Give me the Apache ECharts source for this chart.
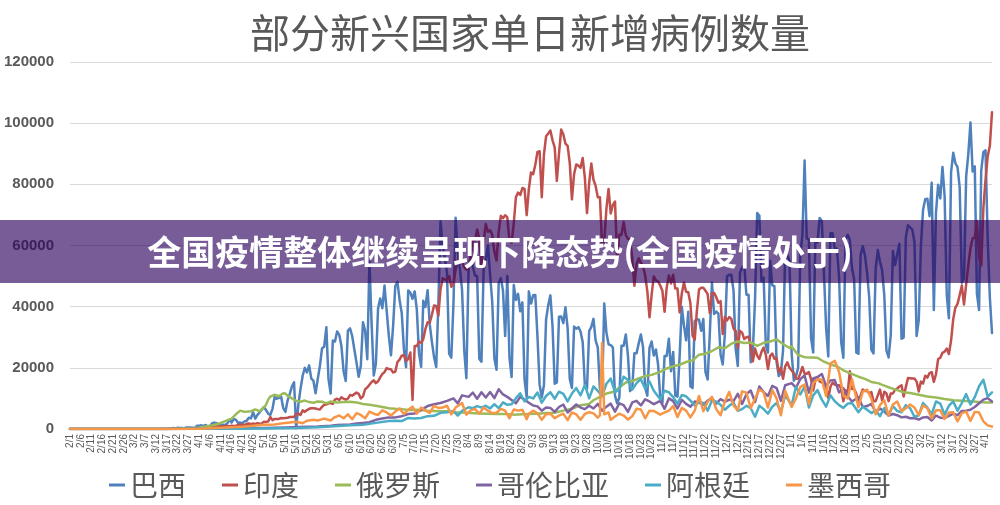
<!DOCTYPE html>
<html>
<head>
<meta charset="utf-8">
<script src="https://cdn.jsdelivr.net/npm/echarts@6/dist/echarts.min.js"></script>
<style>
  html, body { margin: 0; padding: 0; background: #fff; }
  #chart { width: 1000px; height: 505px; }
</style>
</head>
<body>
<div id="chart"></div>
<script>
// 日期: 2020/2/1 - 2021/4/4, 每天一个类目
const firstDay = Date.UTC(2020, 1, 1);
const dayCount = 429;
const dates = [];
for (let i = 0; i < dayCount; i++) {
  const d = new Date(firstDay + i * 86400000);
  dates.push((d.getUTCMonth() + 1) + '/' + d.getUTCDate());
}
// 每月1日所在的下标
const monthStarts = dates.reduce((acc, s, i) => (s.endsWith('/1') ? acc.concat(i) : acc), []);

const countries = ['巴西', '印度', '俄罗斯', '哥伦比亚', '阿根廷', '墨西哥'];
const colors = ['#4f81bd', '#c0504d', '#9bbb59', '#8064a2', '#4bacc6', '#f79646'];
const yTicks = [0, 20000, 40000, 60000, 80000, 100000, 120000];

// 巴西: 按月的每日新增 (2020年2月 ... 2021年4月)
const brazil = [
  [0,0,0,0,0,0,0,0,0,0,0,0,0,0,0,0,0,0,0,0,0,0,0,0,0,0,0,0,0],
  [0,0,0,0,0,0,0,0,0,0,0,0,0,0,100,0,100,100,200,300,200,400,300,300,200,500,500,500,400,300,1100],
  [1100,1200,1000,1300,800,1000,1900,2100,1900,1500,1100,1400,1300,1800,3100,2100,3300,3000,2000,2100,1900,2500,2700,3700,3500,5500,3400,4600,5400,6300],
  [7200,6200,5000,4600,6600,10500,9900,10200,10600,6800,5600,9300,11400,13900,15300,300,7900,13100,17400,20000,18500,20800,16500,15800,11700,16300,20600,26400,26900,33300,16400],
  [11600,28900,28600,31900,30800,27100,18900,15700,32100,32900,30400,26000,21700,17100,20600,34900,32200,22800,54800,34700,17500,21400,39400,42700,39500,46900,38700,30500,24100,33800],
  [46700,48100,42200,37900,26100,20200,45300,44600,42600,45000,39000,24800,20300,41900,39900,45400,34200,28500,23500,20300,41000,67900,60000,55900,51100,24600,23300,40800,69100,57800,52400],
  [45400,25800,16600,51600,57200,53100,50200,50000,23000,22000,52200,55200,60100,50600,41600,23100,19400,47800,49300,45300,30400,50000,23400,17000,47100,42200,44200,38500,41400,16200,10300],
  [45000,41000,43700,43800,30200,14500,10300,14300,35800,40500,43700,33500,14800,15200,36700,36800,34600,39800,33000,16400,13400,33500,32800,33300,31900,28400,14300,13200,32000,33400],
  [36000,28900,26700,13100,11900,41000,31600,27700,27400,26700,10800,8400,10200,27200,27200,30900,24000,12400,13400,24800,24800,28000,30900,26900,13500,10900,26500,28600,24000,26000,21000],
  [10100,8500,23900,23900,29500,18900,25200,10900,10600,23900,40000,33900,29000,38300,14000,13400,35300,35900,35700,32100,36000,18600,16200,31100,47900,37600,38400,37700,24400,21100],
  [31100,49900,50400,50400,45400,26400,20600,51000,52800,53500,43900,43900,21800,25800,42400,70600,69800,48300,49500,27400,25000,55000,47000,46700,22000,17300,18400,25600,58700,56800,55000],
  [24600,15800,17300,20000,56600,63500,87800,62300,62000,29800,25000,62000,61000,69000,68000,51000,33000,23700,64000,64000,59000,59000,49800,28300,23300,61900,63500,61800,52700,49000,25000],
  [24600,56800,59800,56900,51100,43000,25900,24700,52400,58500,54700,51900,43700,25700,23400,30700,58200,53600,57100,60600,29500,29900,62700,66600,65900,65200,61200,30400],
  [35600,59900,71700,75100,75300,69600,80500,38900,70800,79900,75400,85700,76200,43800,36200,83900,90300,86900,85600,79000,47800,49300,82500,89900,100200,84200,85900,44300,38900,84500,90600],
  [91100,62000,43000,31400]
];

// 印度: 按月的每日新增
const india = [
  [0,0,0,0,0,0,0,0,0,0,0,0,0,0,0,0,0,0,0,0,0,0,0,0,0,0,0,0,0],
  [0,0,0,0,0,0,0,0,0,0,0,0,0,0,0,10,20,20,30,50,80,70,100,70,90,70,150,180,90,200,300],
  [400,500,500,600,500,700,600,500,800,900,800,800,1000,1000,900,1100,1000,1100,1300,1500,1300,1300,1700,1800,1600,1800,1600,1900,1700,1800],
  [2400,2300,2500,3900,2900,3300,3300,3300,3600,3500,3600,3700,3900,3900,3900,4900,5000,4600,6100,5600,6200,6600,6800,6800,6700,6500,6400,7300,7900,8000,8400],
  [8400,8200,9600,9900,9500,10400,9900,9600,9900,11100,10900,11400,11900,11500,10000,10700,13000,13600,14500,15400,15900,15000,15600,16900,18000,18600,19900,19600,19500,18500],
  [18700,21900,22700,24000,24200,22300,22900,25000,9500,27100,27100,28600,28200,29400,32700,34900,34800,37400,40400,40200,37100,45700,49300,48900,48700,50000,46500,47700,52100,55100,57100],
  [54700,52900,52100,52500,56300,62200,61500,65200,62100,53600,61300,67000,64500,65000,63500,57900,55100,64500,69700,68900,69900,69200,61400,60900,67200,75800,77300,76500,78800,78500,69900],
  [78400,83900,83300,86400,90600,90800,75800,89700,95700,96600,97600,94400,92100,81100,90100,97900,96400,93300,92600,86900,75100,83300,86500,86100,85400,88600,82200,70600,80500,86800],
  [81500,79500,75800,75800,60000,61300,72000,78500,70500,73300,74400,55300,63500,63500,67700,63400,62200,61900,55700,46800,54000,55800,54400,53400,50100,45100,36500,43900,49900,48600,48300],
  [46900,45200,38300,46300,50200,47600,50400,45900,45900,38100,44300,47900,44900,44700,41100,30500,29200,38600,45600,46200,46200,45200,44100,37900,44400,44500,43100,41300,41800,31100],
  [36600,35500,36600,36000,32900,32000,26500,32100,31500,29400,30000,30200,27000,22100,26300,24000,22900,25200,26600,24300,19600,23900,24700,23000,23100,18700,20000,16400,20500,21800,20000],
  [19100,18200,16500,16400,18100,20300,18100,18100,18600,16300,12600,16000,16900,15600,15200,15100,13800,10100,13800,15200,14500,14300,14300,13200,9100,12700,11700,18900,13100,13100,11600],
  [8600,11000,12900,12400,12400,11700,12100,9100,9100,11000,12900,9300,12200,11600,9100,11600,11600,12900,13200,13900,14300,10600,13700,16700,16600,16500,16500,15500],
  [12300,15500,14900,17400,16800,18300,18600,15400,17900,22900,23300,24900,25300,26300,24500,28900,35900,39700,40900,43800,46900,40700,47300,53500,59100,62300,62600,68000,56200,53500,72300],
  [81500,89100,92600,103600]
];

// 以下各国: [日序号, 新增]
const russia = [[0,0],[44,0],[50,100],[57,300],[60,500],[63,800],[66,1200],[69,1700],[72,2600],[75,3400],[77,4800],[79,6000],[81,5600],[84,5800],[86,6400],[88,5800],[90,7100],[91,7900],[92,9600],[93,10600],[95,11200],[97,10700],[99,11700],[100,11600],[101,10900],[103,10000],[105,9200],[107,8900],[109,9300],[111,8800],[113,8600],[115,9000],[117,8900],[119,8400],[121,9000],[124,8700],[127,8800],[130,8900],[133,8700],[136,8200],[139,7900],[142,7600],[145,7200],[148,6800],[151,6600],[154,6500],[157,6200],[160,6300],[163,6200],[166,6000],[169,5900],[172,5800],[175,5800],[178,5500],[182,5400],[186,5200],[190,5100],[194,5000],[198,4900],[202,4900],[206,4700],[210,4800],[213,4900],[217,5000],[221,5200],[225,5300],[229,6000],[233,6600],[237,7800],[241,8200],[243,9400],[246,10500],[249,11600],[252,12100],[255,13600],[258,15200],[261,15700],[264,16500],[267,17300],[270,17700],[274,18700],[277,19800],[280,20500],[283,21000],[286,21900],[289,22400],[292,24300],[295,24600],[298,25500],[301,26700],[304,26400],[307,27900],[310,28600],[313,28100],[316,28300],[319,27200],[322,28200],[325,28600],[328,29300],[331,27800],[334,26500],[335,27000],[338,24200],[341,23500],[344,23400],[347,23300],[350,22000],[353,21100],[356,20500],[359,19200],[362,18300],[366,17100],[369,16400],[372,15400],[375,15000],[378,14200],[381,13400],[384,12700],[387,12000],[390,11800],[394,11200],[398,10600],[402,10300],[406,9800],[410,9400],[414,9200],[418,9100],[422,8800],[425,8700],[428,8700]];

const colombia = [[0,0],[45,0],[60,100],[75,200],[90,300],[100,500],[110,700],[115,800],[121,1100],[124,1300],[127,1400],[130,1500],[133,1800],[136,2000],[139,2200],[142,3000],[145,3400],[148,3800],[151,3800],[154,4200],[157,4900],[160,5100],[163,6200],[166,7500],[169,8100],[172,8500],[175,9200],[178,10000],[180,8400],[182,11000],[185,10500],[187,11900],[189,9900],[191,12000],[193,10300],[195,12100],[197,10100],[199,13000],[201,11300],[203,10500],[205,9500],[207,8400],[209,10500],[211,9600],[213,8600],[215,7700],[217,7400],[219,6000],[221,7000],[223,6900],[225,5600],[227,7200],[229,8000],[231,5400],[233,6700],[235,8000],[237,7000],[239,6500],[241,7600],[243,6700],[245,8200],[247,6000],[249,7300],[251,8300],[253,5700],[255,8400],[257,7800],[259,5600],[261,8700],[263,9200],[265,7700],[267,9700],[269,9000],[271,8100],[274,9200],[276,6600],[278,10000],[280,9100],[282,6700],[284,9500],[286,8200],[288,7300],[290,9000],[292,8600],[294,7900],[296,9300],[298,10000],[300,8300],[302,9800],[304,8900],[306,9600],[308,9100],[310,11500],[312,8200],[314,11400],[316,12600],[318,8800],[320,13900],[322,12000],[324,10800],[326,14100],[328,13400],[330,9200],[332,14300],[335,15000],[337,13500],[339,16300],[341,17500],[343,11900],[345,16500],[347,17000],[349,18000],[351,14000],[353,15900],[355,16000],[357,12000],[359,13400],[361,10700],[363,9000],[366,10400],[368,7200],[370,7500],[372,8200],[374,5500],[376,6700],[378,5700],[380,4400],[382,4900],[384,4500],[386,3800],[388,4000],[390,3500],[392,3600],[394,3100],[396,3800],[398,3900],[400,2800],[402,4400],[404,3700],[406,3600],[408,4300],[410,5000],[412,4500],[414,5900],[416,6000],[418,6300],[420,7200],[422,8400],[424,9600],[426,10100],[428,9000]];

const argentina = [[0,0],[45,0],[60,100],[90,150],[105,300],[115,600],[121,800],[130,1200],[136,1400],[142,2000],[148,2600],[151,2700],[154,2600],[157,3600],[160,3400],[163,3600],[166,4200],[169,4300],[172,5300],[175,5500],[178,5900],[180,4400],[182,5900],[185,7100],[187,6800],[189,7500],[191,7000],[193,7600],[195,6700],[197,8100],[199,6800],[201,8700],[203,7900],[205,8100],[207,10100],[209,11700],[211,9000],[213,10500],[215,10000],[217,11900],[219,8600],[221,10800],[223,12000],[225,9900],[227,12200],[229,11500],[231,9000],[233,11600],[235,13400],[237,11000],[239,14400],[241,10000],[243,13900],[245,12500],[247,10700],[249,14800],[251,16500],[253,12000],[255,13000],[257,17100],[259,16000],[261,12900],[263,15000],[265,16300],[267,13200],[269,15500],[271,12500],[274,9700],[276,12500],[278,12000],[280,10400],[282,8300],[284,11100],[286,10700],[288,9300],[290,7700],[292,8800],[294,8500],[296,6000],[298,9300],[300,8900],[302,7900],[304,6300],[306,7600],[308,8600],[310,5900],[312,6500],[314,7600],[316,6800],[318,4000],[320,7600],[322,6500],[324,5000],[326,7300],[328,8500],[330,5700],[332,11000],[335,7800],[337,13800],[339,11300],[341,13800],[343,7000],[345,11000],[347,12700],[349,9600],[351,7300],[353,11000],[355,9100],[357,7800],[359,6900],[361,8300],[363,8500],[366,5500],[368,7300],[370,6300],[372,5200],[374,6100],[376,4200],[378,6800],[380,4500],[382,7500],[384,5900],[386,5500],[388,7800],[390,6800],[392,4000],[394,4500],[396,8500],[398,7000],[400,4800],[402,9000],[404,8300],[406,4700],[408,7600],[410,9000],[412,6000],[414,8500],[416,11400],[418,8000],[420,10400],[422,14000],[424,16100],[426,10600],[428,12000]];

const mexico = [[0,0],[50,0],[60,100],[70,400],[80,700],[90,1400],[95,1500],[100,2000],[105,2400],[108,1900],[110,2700],[113,3000],[115,2800],[118,3400],[121,2800],[123,3900],[125,4400],[127,3500],[129,4800],[131,3200],[133,5200],[135,4600],[137,3500],[139,5700],[141,5000],[143,4600],[145,6100],[147,5400],[149,4400],[151,5700],[153,6700],[155,4900],[157,6300],[159,7300],[161,5000],[163,7000],[165,6000],[167,5300],[169,7600],[171,6900],[173,7000],[175,7600],[177,4800],[179,7000],[182,8500],[184,4700],[186,6100],[188,6600],[190,5000],[192,7000],[194,6000],[196,5200],[198,5300],[200,6600],[202,6000],[204,3500],[206,6400],[208,6000],[210,6300],[212,3200],[213,5000],[215,6000],[217,5100],[219,3000],[221,4800],[223,5000],[225,3500],[227,4400],[229,5000],[231,2900],[233,5400],[235,4800],[237,3000],[239,4900],[241,5500],[243,5100],[245,3700],[246,4500],[247,28100],[248,4800],[250,5400],[251,3000],[253,4100],[255,5000],[257,4400],[259,3100],[261,4200],[263,6600],[265,6400],[267,3500],[269,6000],[271,5900],[274,4700],[276,5400],[278,6000],[280,7500],[282,3900],[284,6900],[286,6000],[288,3800],[290,6000],[292,10800],[294,5800],[296,8900],[298,10500],[300,6500],[302,4500],[304,9000],[306,12100],[308,7700],[310,6100],[312,12300],[314,11900],[316,6800],[318,10000],[320,12900],[322,12000],[324,7000],[326,12700],[328,10000],[330,4500],[332,12400],[335,7200],[337,10000],[339,13700],[341,14500],[343,8200],[345,15000],[347,16300],[349,16100],[351,10800],[353,21400],[355,22300],[357,18700],[359,10900],[361,10000],[363,16300],[366,7100],[368,12200],[370,12900],[372,9900],[374,4800],[376,7800],[378,9400],[380,4400],[382,8000],[384,9000],[386,5800],[388,6800],[390,8000],[392,7000],[394,4600],[396,7700],[398,6800],[400,3500],[402,6100],[404,6100],[406,3300],[408,5400],[410,5500],[412,2500],[414,5200],[416,5700],[418,2600],[420,5600],[422,5400],[424,2500],[426,1200],[428,800]];

const byMonth = months => months.flatMap((m, k) => m.map((v, d) => [monthStarts[k] + d, v]));
const seriesData = [byMonth(brazil), byMonth(india), russia, colombia, argentina, mexico];

const chart = echarts.init(document.getElementById('chart'));
chart.setOption({
  animation: false,
  color: colors,
  title: {
    text: '部分新兴国家单日新增病例数量',
    left: 250,
    top: 13,
    padding: 0,
    textStyle: { fontFamily: 'Noto Sans CJK SC', fontSize: 40, fontWeight: 'normal', color: '#595959' }
  },
  grid: { left: 70, right: 8, top: 62, bottom: 76 },
  legend: {
    data: countries,
    top: 471,
    left: 'center',
    padding: 0,
    icon: 'rect',
    itemWidth: 16,
    itemHeight: 3,
    itemGap: 36,
    textStyle: { fontFamily: 'Noto Sans CJK SC', fontSize: 28, color: '#595959' }
  },
  xAxis: {
    type: 'category',
    data: dates,
    boundaryGap: false,
    axisLine: { lineStyle: { color: '#d9d9d9' } },
    axisTick: { show: false },
    axisLabel: {
      interval: 4,
      rotate: 90,
      margin: 5,
      fontSize: 10,
      color: '#595959',
      fontFamily: 'Liberation Sans'
    }
  },
  yAxis: {
    type: 'value',
    min: yTicks[0],
    max: yTicks[yTicks.length - 1],
    interval: yTicks[1] - yTicks[0],
    axisLine: { show: false },
    axisTick: { show: false },
    splitLine: { lineStyle: { color: '#d9d9d9' } },
    axisLabel: {
      margin: 16,
      fontSize: 15,
      fontWeight: 'bold',
      color: '#595959',
      fontFamily: 'Liberation Sans',
      formatter: v => String(v)
    }
  },
  series: countries.map((name, i) => ({
    name,
    type: 'line',
    data: seriesData[i],
    showSymbol: false,
    lineStyle: { width: 2.5, join: 'round', cap: 'round' }
  })),
  graphic: [
    {
      type: 'rect',
      z: 100,
      shape: { x: 0, y: 220, width: 1000, height: 63 },
      style: { fill: 'rgba(42, 0, 94, 0.64)' }
    },
    {
      type: 'text',
      z: 101,
      x: 500,
      y: 252,
      style: {
        text: '全国疫情整体继续呈现下降态势(全国疫情处于)',
        fill: '#fff',
        font: 'bold 34px "Noto Sans CJK SC"',
        textAlign: 'center',
        textVerticalAlign: 'middle'
      }
    }
  ]
});
</script>
</body>
</html>
